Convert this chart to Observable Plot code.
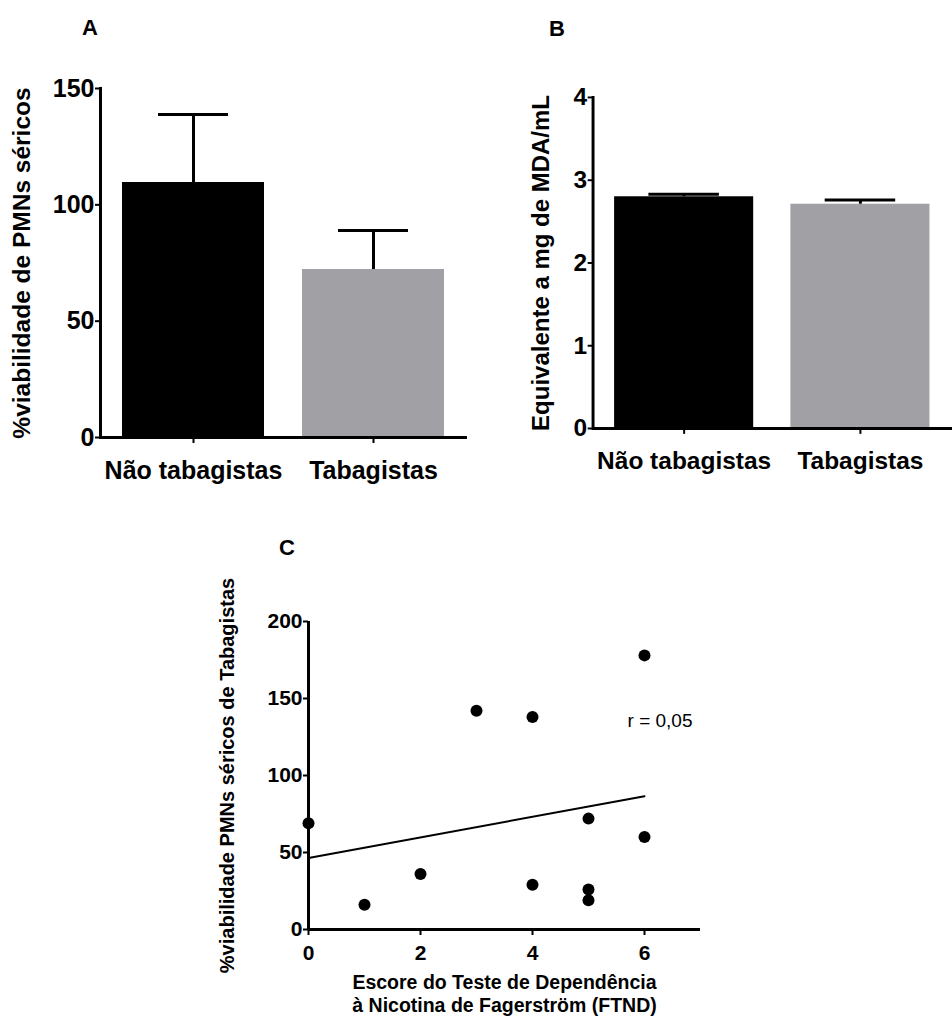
<!DOCTYPE html>
<html><head><meta charset="utf-8">
<script src="https://cdn.jsdelivr.net/npm/d3@7"></script>
<script src="https://cdn.jsdelivr.net/npm/@observablehq/plot@0.6"></script>
<style>
html,body{margin:0;padding:0;background:#fff;overflow:hidden;}
#wrap{position:relative;width:952px;height:1017px;overflow:hidden;font-family:"Liberation Sans",Arial,sans-serif;color:#000;}
.panel{position:absolute;}
.letter{position:absolute;font-weight:bold;font-size:22px;line-height:1;}
</style></head><body>
<div id="wrap">
  <div class="letter" style="left:82px;top:17px">A</div>
  <div class="letter" style="left:549px;top:18px">B</div>
  <div class="letter" style="left:279px;top:537px">C</div>
  <div class="panel" id="pA" style="left:0;top:0"></div>
  <div class="panel" id="pB" style="left:476px;top:0"></div>
  <div class="panel" id="pC" style="left:200px;top:530px"></div>
</div>
<script>
// ---- Data ----
const categories = ["Não tabagistas", "Tabagistas"];
const barColors = ["#000000", "#a1a0a5"];

// Panel A: % viabilidade de PMNs séricos (mean, SD)
const viabMean = [109.6, 72.2];
const viabSD = [29.2, 16.8];
const yTicksA = [0, 50, 100, 150];
const yLabelA = "%viabilidade de PMNs séricos";

// Panel B: Equivalente a mg de MDA/mL (mean, SD)
const mdaMean = [2.80, 2.71];
const mdaSD = [0.03, 0.05];
const yTicksB = [0, 1, 2, 3, 4];
const yLabelB = "Equivalente a mg de MDA/mL";

// Panel C: FTND score vs viability in smokers
const ftndScore = [0, 1, 2, 3, 4, 4, 5, 5, 5, 6, 6];
const viabSmokers = [69, 16, 36, 142, 138, 29, 72, 26, 19, 178, 60];
const xTicksC = [0, 2, 4, 6];
const yTicksC = [0, 50, 100, 150, 200];
const yLabelC = "%viabilidade PMNs séricos de Tabagistas";
const xLabelC = "Escore do Teste de Dependência\nà Nicotina de Fagerström (FTND)";
const rLabel = "r = 0,05";

const FONT = '"Liberation Sans", Arial, sans-serif';
const baseStyle = {fontFamily: FONT, fontWeight: "bold", color: "#000", background: "transparent", overflow: "visible"};
const intFmt = d3.format("d");

function barPanel(means, sds, yDomain, yTicks, yLabel, opts) {
  const data = categories.map((c, i) => ({cat: c, mean: means[i], sd: sds[i]}));
  return Plot.plot({
    width: opts.width, height: 500,
    marginLeft: opts.marginLeft, marginRight: opts.marginRight, marginTop: opts.marginTop, marginBottom: 63,
    style: baseStyle,
    x: {domain: categories, paddingInner: 0.21, paddingOuter: 0.12, label: null, axis: null},
    y: {domain: yDomain, label: null, axis: null},
    color: {domain: categories, range: barColors},
    marks: [
      Plot.barY(data, {x: "cat", y: "mean", fill: "cat"}),
      Plot.ruleX(data, {x: "cat", y1: "mean", y2: d => d.mean + d.sd, stroke: "#000", strokeWidth: 3}),
      Plot.tickY(data, {x: "cat", y: d => d.mean + d.sd, stroke: "#000", strokeWidth: 3, insetLeft: opts.capInset, insetRight: opts.capInset}),
      Plot.ruleY([0], {stroke: "#000", strokeWidth: 3}),
      Plot.frame({anchor: "left", stroke: "#000", strokeWidth: 3}),
      Plot.axisY({ticks: yTicks, tickFormat: intFmt, tickSize: 5, tickPadding: 1, strokeWidth: 2, label: null, fontSize: 25, fontWeight: "bold"}),
      Plot.axisX({tickSize: 6, tickPadding: 18, strokeWidth: 2, label: null, fontSize: 25, fontWeight: "bold"}),
      Plot.text([yLabel], {text: d => d, frameAnchor: "left", textAnchor: "middle", dx: opts.labelDx, rotate: -90, fontSize: 24.5, fontWeight: "bold", fill: "#000"})
    ]
  });
}

document.getElementById("pA").appendChild(
  barPanel(viabMean, viabSD, [0, 150], yTicksA, yLabelA,
    {width: 476, marginLeft: 100, marginRight: 9, marginTop: 88, capInset: 36, labelDx: -78}));

document.getElementById("pB").appendChild(
  barPanel(mdaMean, mdaSD, [0, 4], yTicksB, yLabelB,
    {width: 486, marginLeft: 119, marginRight: 0, marginTop: 99, capInset: 35, labelDx: -53}));

const dataC = ftndScore.map((x, i) => ({x, y: viabSmokers[i]}));
document.getElementById("pC").appendChild(Plot.plot({
  width: 560, height: 487,
  marginLeft: 108, marginRight: 60, marginTop: 91, marginBottom: 88,
  style: baseStyle,
  x: {domain: [0, 7], label: null, axis: null},
  y: {domain: [0, 200], label: null, axis: null},
  marks: [
    Plot.linearRegressionY(dataC, {x: "x", y: "y", ci: 0, stroke: "#000", strokeWidth: 2}),
    Plot.dot(dataC, {x: "x", y: "y", r: 6, fill: "#000", stroke: "none"}),
    Plot.ruleX([0], {stroke: "#000", strokeWidth: 3}),
    Plot.ruleY([0], {stroke: "#000", strokeWidth: 3}),
    Plot.axisX({ticks: xTicksC, tickFormat: intFmt, tickSize: 6, tickPadding: 10, strokeWidth: 2, label: null, fontSize: 21, fontWeight: "bold"}),
    Plot.axisY({ticks: yTicksC, tickFormat: intFmt, tickSize: 5, tickPadding: 1, strokeWidth: 2, label: null, fontSize: 21, fontWeight: "bold"}),
    Plot.text([rLabel], {text: d => d, frameAnchor: "top-right", textAnchor: "end", dx: -8, dy: 92, fontSize: 19, fontWeight: "normal", fill: "#000"}),
    Plot.text([yLabelC], {text: d => d, frameAnchor: "left", textAnchor: "middle", dx: -81, rotate: -90, fontSize: 20, fontWeight: "bold", fill: "#000"}),
    Plot.text([xLabelC], {text: d => d, frameAnchor: "bottom", textAnchor: "middle", lineAnchor: "top", dy: 44, lineHeight: 1.15, fontSize: 19.5, fontWeight: "bold", fill: "#000"})
  ]
}));
</script>
</body></html>
